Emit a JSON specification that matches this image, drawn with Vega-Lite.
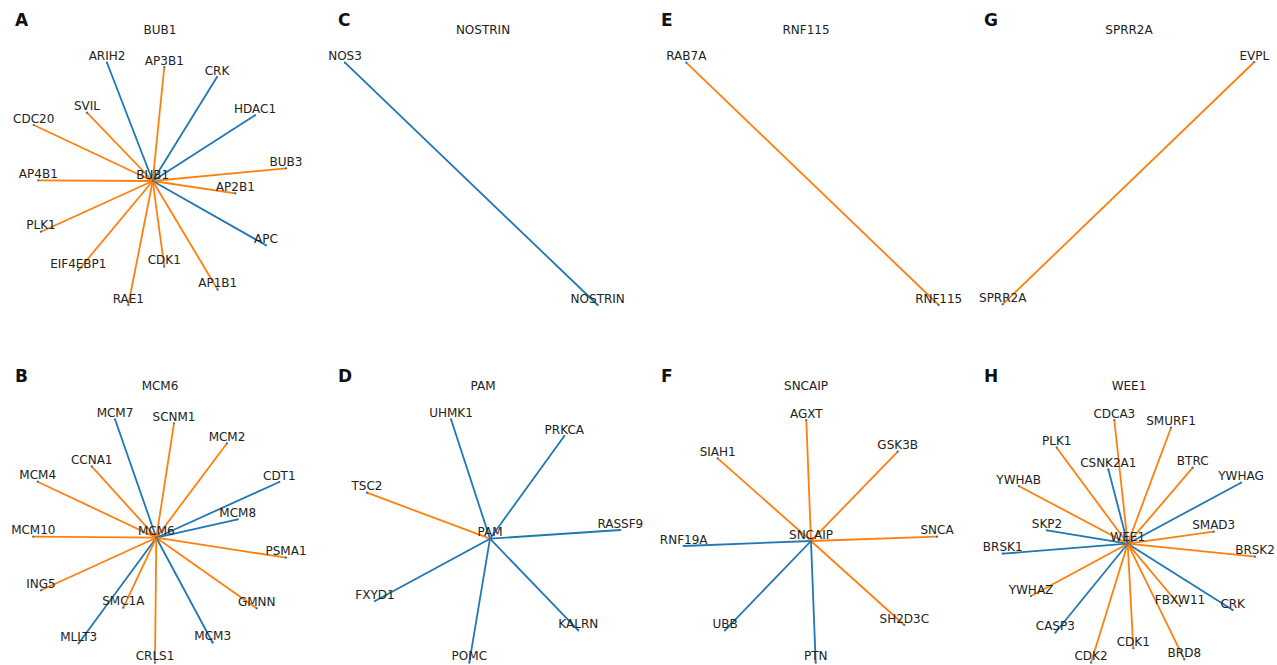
{
  "$schema": "https://vega.github.io/schema/vega-lite/v6.json",
  "padding": {"left": 11, "top": 8, "right": 0, "bottom": 0},
  "bounds": "flush",
  "data": {"values": [
    {"panel":"A","hub":"BUB1","node":"BUB1","role":"hub","x":-7.3,"y":-22},
    {"panel":"A","hub":"BUB1","node":"ARIH2","role":"leaf","x":-53,"y":96.3,"hx":-7.3,"hy":-22,"kind":"type 1"},
    {"panel":"A","hub":"BUB1","node":"AP3B1","role":"leaf","x":4.3,"y":92,"hx":-7.3,"hy":-22,"kind":"type 2"},
    {"panel":"A","hub":"BUB1","node":"CRK","role":"leaf","x":57,"y":82,"hx":-7.3,"hy":-22,"kind":"type 1"},
    {"panel":"A","hub":"BUB1","node":"HDAC1","role":"leaf","x":95,"y":43.7,"hx":-7.3,"hy":-22,"kind":"type 1"},
    {"panel":"A","hub":"BUB1","node":"BUB3","role":"leaf","x":126,"y":-9.3,"hx":-7.3,"hy":-22,"kind":"type 2"},
    {"panel":"A","hub":"BUB1","node":"AP2B1","role":"leaf","x":75.3,"y":-34.3,"hx":-7.3,"hy":-22,"kind":"type 2"},
    {"panel":"A","hub":"BUB1","node":"APC","role":"leaf","x":106,"y":-86.3,"hx":-7.3,"hy":-22,"kind":"type 1"},
    {"panel":"A","hub":"BUB1","node":"AP1B1","role":"leaf","x":57.7,"y":-130.7,"hx":-7.3,"hy":-22,"kind":"type 2"},
    {"panel":"A","hub":"BUB1","node":"CDK1","role":"leaf","x":4.3,"y":-107.7,"hx":-7.3,"hy":-22,"kind":"type 2"},
    {"panel":"A","hub":"BUB1","node":"RAE1","role":"leaf","x":-31.7,"y":-146,"hx":-7.3,"hy":-22,"kind":"type 2"},
    {"panel":"A","hub":"BUB1","node":"EIF4EBP1","role":"leaf","x":-81.7,"y":-111.3,"hx":-7.3,"hy":-22,"kind":"type 2"},
    {"panel":"A","hub":"BUB1","node":"PLK1","role":"leaf","x":-119,"y":-72.7,"hx":-7.3,"hy":-22,"kind":"type 2"},
    {"panel":"A","hub":"BUB1","node":"AP4B1","role":"leaf","x":-121.7,"y":-21.3,"hx":-7.3,"hy":-22,"kind":"type 2"},
    {"panel":"A","hub":"BUB1","node":"CDC20","role":"leaf","x":-126.3,"y":34,"hx":-7.3,"hy":-22,"kind":"type 2"},
    {"panel":"A","hub":"BUB1","node":"SVIL","role":"leaf","x":-73,"y":46.3,"hx":-7.3,"hy":-22,"kind":"type 2"},

    {"panel":"C","hub":"NOSTRIN","node":"NOSTRIN","role":"hub","x":114.7,"y":-146},
    {"panel":"C","hub":"NOSTRIN","node":"NOS3","role":"leaf","x":-138,"y":96.3,"hx":114.7,"hy":-146,"kind":"type 1"},

    {"panel":"E","hub":"RNF115","node":"RNF115","role":"hub","x":132.7,"y":-146},
    {"panel":"E","hub":"RNF115","node":"RAB7A","role":"leaf","x":-119.7,"y":96.3,"hx":132.7,"hy":-146,"kind":"type 2"},

    {"panel":"G","hub":"SPRR2A","node":"SPRR2A","role":"hub","x":-126.3,"y":-145.3},
    {"panel":"G","hub":"SPRR2A","node":"EVPL","role":"leaf","x":125.3,"y":97,"hx":-126.3,"hy":-145.3,"kind":"type 2"},

    {"panel":"B","hub":"MCM6","node":"MCM6","role":"hub","x":-3.7,"y":-22.7},
    {"panel":"B","hub":"MCM6","node":"MCM7","role":"leaf","x":-45,"y":95.7,"hx":-3.7,"hy":-22.7,"kind":"type 1"},
    {"panel":"B","hub":"MCM6","node":"SCNM1","role":"leaf","x":14,"y":91.7,"hx":-3.7,"hy":-22.7,"kind":"type 2"},
    {"panel":"B","hub":"MCM6","node":"MCM2","role":"leaf","x":67,"y":71.7,"hx":-3.7,"hy":-22.7,"kind":"type 2"},
    {"panel":"B","hub":"MCM6","node":"CDT1","role":"leaf","x":119.3,"y":33,"hx":-3.7,"hy":-22.7,"kind":"type 1"},
    {"panel":"B","hub":"MCM6","node":"MCM8","role":"leaf","x":77.7,"y":-4.3,"hx":-3.7,"hy":-22.7,"kind":"type 1"},
    {"panel":"B","hub":"MCM6","node":"PSMA1","role":"leaf","x":126,"y":-42.7,"hx":-3.7,"hy":-22.7,"kind":"type 2"},
    {"panel":"B","hub":"MCM6","node":"GMNN","role":"leaf","x":96.7,"y":-93.3,"hx":-3.7,"hy":-22.7,"kind":"type 2"},
    {"panel":"B","hub":"MCM6","node":"MCM3","role":"leaf","x":52.7,"y":-127.7,"hx":-3.7,"hy":-22.7,"kind":"type 1"},
    {"panel":"B","hub":"MCM6","node":"CRLS1","role":"leaf","x":-5,"y":-147.7,"hx":-3.7,"hy":-22.7,"kind":"type 2"},
    {"panel":"B","hub":"MCM6","node":"MLLT3","role":"leaf","x":-81.3,"y":-128.3,"hx":-3.7,"hy":-22.7,"kind":"type 1"},
    {"panel":"B","hub":"MCM6","node":"SMC1A","role":"leaf","x":-36.7,"y":-92.7,"hx":-3.7,"hy":-22.7,"kind":"type 2"},
    {"panel":"B","hub":"MCM6","node":"ING5","role":"leaf","x":-119,"y":-75.3,"hx":-3.7,"hy":-22.7,"kind":"type 2"},
    {"panel":"B","hub":"MCM6","node":"MCM10","role":"leaf","x":-126.7,"y":-21.7,"hx":-3.7,"hy":-22.7,"kind":"type 2"},
    {"panel":"B","hub":"MCM6","node":"MCM4","role":"leaf","x":-122.3,"y":33.3,"hx":-3.7,"hy":-22.7,"kind":"type 2"},
    {"panel":"B","hub":"MCM6","node":"CCNA1","role":"leaf","x":-68.3,"y":48.7,"hx":-3.7,"hy":-22.7,"kind":"type 2"},

    {"panel":"D","hub":"PAM","node":"PAM","role":"hub","x":7,"y":-23.7},
    {"panel":"D","hub":"PAM","node":"UHMK1","role":"leaf","x":-32,"y":95.7,"hx":7,"hy":-23.7,"kind":"type 1"},
    {"panel":"D","hub":"PAM","node":"PRKCA","role":"leaf","x":81.3,"y":79,"hx":7,"hy":-23.7,"kind":"type 1"},
    {"panel":"D","hub":"PAM","node":"RASSF9","role":"leaf","x":137.3,"y":-15,"hx":7,"hy":-23.7,"kind":"type 1"},
    {"panel":"D","hub":"PAM","node":"KALRN","role":"leaf","x":95.3,"y":-115.3,"hx":7,"hy":-23.7,"kind":"type 1"},
    {"panel":"D","hub":"PAM","node":"POMC","role":"leaf","x":-13.7,"y":-147.7,"hx":7,"hy":-23.7,"kind":"type 1"},
    {"panel":"D","hub":"PAM","node":"FXYD1","role":"leaf","x":-108,"y":-86,"hx":7,"hy":-23.7,"kind":"type 1"},
    {"panel":"D","hub":"PAM","node":"TSC2","role":"leaf","x":-116,"y":22.3,"hx":7,"hy":-23.7,"kind":"type 2"},

    {"panel":"F","hub":"SNCAIP","node":"SNCAIP","role":"hub","x":5,"y":-26},
    {"panel":"F","hub":"SNCAIP","node":"AGXT","role":"leaf","x":0.3,"y":95,"hx":5,"hy":-26,"kind":"type 2"},
    {"panel":"F","hub":"SNCAIP","node":"GSK3B","role":"leaf","x":91.7,"y":63.3,"hx":5,"hy":-26,"kind":"type 2"},
    {"panel":"F","hub":"SNCAIP","node":"SNCA","role":"leaf","x":131,"y":-21.7,"hx":5,"hy":-26,"kind":"type 2"},
    {"panel":"F","hub":"SNCAIP","node":"SH2D3C","role":"leaf","x":98.3,"y":-110,"hx":5,"hy":-26,"kind":"type 2"},
    {"panel":"F","hub":"SNCAIP","node":"PTN","role":"leaf","x":9.7,"y":-147.7,"hx":5,"hy":-26,"kind":"type 1"},
    {"panel":"F","hub":"SNCAIP","node":"UBB","role":"leaf","x":-81,"y":-115.3,"hx":5,"hy":-26,"kind":"type 1"},
    {"panel":"F","hub":"SNCAIP","node":"RNF19A","role":"leaf","x":-122.3,"y":-31,"hx":5,"hy":-26,"kind":"type 1"},
    {"panel":"F","hub":"SNCAIP","node":"SIAH1","role":"leaf","x":-88.3,"y":56.7,"hx":5,"hy":-26,"kind":"type 2"},

    {"panel":"H","hub":"WEE1","node":"WEE1","role":"hub","x":-1.3,"y":-28.7},
    {"panel":"H","hub":"WEE1","node":"CDCA3","role":"leaf","x":-14.7,"y":95,"hx":-1.3,"hy":-28.7,"kind":"type 2"},
    {"panel":"H","hub":"WEE1","node":"SMURF1","role":"leaf","x":42,"y":87.3,"hx":-1.3,"hy":-28.7,"kind":"type 2"},
    {"panel":"H","hub":"WEE1","node":"BTRC","role":"leaf","x":63.7,"y":47.3,"hx":-1.3,"hy":-28.7,"kind":"type 2"},
    {"panel":"H","hub":"WEE1","node":"YWHAG","role":"leaf","x":112,"y":32.3,"hx":-1.3,"hy":-28.7,"kind":"type 1"},
    {"panel":"H","hub":"WEE1","node":"SMAD3","role":"leaf","x":84.7,"y":-16.7,"hx":-1.3,"hy":-28.7,"kind":"type 2"},
    {"panel":"H","hub":"WEE1","node":"BRSK2","role":"leaf","x":126,"y":-41.7,"hx":-1.3,"hy":-28.7,"kind":"type 2"},
    {"panel":"H","hub":"WEE1","node":"CRK","role":"leaf","x":103.7,"y":-95,"hx":-1.3,"hy":-28.7,"kind":"type 1"},
    {"panel":"H","hub":"WEE1","node":"FBXW11","role":"leaf","x":51,"y":-91,"hx":-1.3,"hy":-28.7,"kind":"type 2"},
    {"panel":"H","hub":"WEE1","node":"BRD8","role":"leaf","x":55.3,"y":-144.3,"hx":-1.3,"hy":-28.7,"kind":"type 2"},
    {"panel":"H","hub":"WEE1","node":"CDK1","role":"leaf","x":4.3,"y":-133.3,"hx":-1.3,"hy":-28.7,"kind":"type 2"},
    {"panel":"H","hub":"WEE1","node":"CDK2","role":"leaf","x":-38,"y":-147.7,"hx":-1.3,"hy":-28.7,"kind":"type 2"},
    {"panel":"H","hub":"WEE1","node":"CASP3","role":"leaf","x":-73.7,"y":-117.7,"hx":-1.3,"hy":-28.7,"kind":"type 1"},
    {"panel":"H","hub":"WEE1","node":"YWHAZ","role":"leaf","x":-98,"y":-81,"hx":-1.3,"hy":-28.7,"kind":"type 2"},
    {"panel":"H","hub":"WEE1","node":"BRSK1","role":"leaf","x":-126.3,"y":-38.7,"hx":-1.3,"hy":-28.7,"kind":"type 1"},
    {"panel":"H","hub":"WEE1","node":"SKP2","role":"leaf","x":-82,"y":-15.3,"hx":-1.3,"hy":-28.7,"kind":"type 1"},
    {"panel":"H","hub":"WEE1","node":"YWHAB","role":"leaf","x":-110.3,"y":29,"hx":-1.3,"hy":-28.7,"kind":"type 2"},
    {"panel":"H","hub":"WEE1","node":"PLK1","role":"leaf","x":-72.3,"y":67.3,"hx":-1.3,"hy":-28.7,"kind":"type 2"},
    {"panel":"H","hub":"WEE1","node":"CSNK2A1","role":"leaf","x":-20.7,"y":45.7,"hx":-1.3,"hy":-28.7,"kind":"type 1"}
  ]},
  "facet": {"field": "panel", "type": "nominal", "header": {"labelExpr": "''", "labelFontSize": 1, "labelPadding": 0, "title": null}, "sort": ["A","C","E","G","B","D","F","H"]},
  "columns": 4,
  "spacing": {"row": 56, "column": 27},
  "spec": {
    "width": 296,
    "height": 300,
    "encoding": {
      "x": {"field": "x", "type": "quantitative", "scale": {"domain": [-148, 148], "nice": false, "zero": false}, "axis": null},
      "y": {"field": "y", "type": "quantitative", "scale": {"domain": [-150, 150], "nice": false, "zero": false}, "axis": null}
    },
    "layer": [
      {
        "transform": [{"filter": "datum.role === 'leaf'"}],
        "mark": {"type": "rule", "strokeWidth": 1.8},
        "encoding": {
          "x2": {"field": "hx"},
          "y2": {"field": "hy"},
          "color": {"field": "kind", "type": "nominal", "scale": {"domain": ["type 1", "type 2"], "range": ["#1f77b4", "#ff7f0e"]}, "legend": null}
        }
      },
      {
        "mark": {"type": "point", "filled": true, "size": 5, "color": "#1f77b4", "opacity": 1},
        "encoding": {}
      },
      {
        "mark": {"type": "text", "font": "DejaVu Sans", "fontSize": 12, "color": "#222222", "align": "center", "baseline": "alphabetic", "dy": -2.5},
        "encoding": {"text": {"field": "node"}}
      },
      {
        "transform": [{"filter": "datum.role === 'hub'"}],
        "mark": {"type": "text", "font": "DejaVu Sans", "fontSize": 12, "color": "#222222", "align": "center", "baseline": "middle"},
        "encoding": {
          "x": {"datum": 0},
          "y": {"datum": 129},
          "text": {"field": "hub"}
        }
      },
      {
        "transform": [{"filter": "datum.role === 'hub'"}],
        "mark": {"type": "text", "font": "DejaVu Sans", "fontSize": 17, "fontWeight": "bold", "color": "#111111", "align": "left", "baseline": "alphabetic"},
        "encoding": {
          "x": {"datum": -145},
          "y": {"datum": 133},
          "text": {"field": "panel"}
        }
      }
    ]
  },
  "config": {
    "view": {"stroke": null}
  }
}
